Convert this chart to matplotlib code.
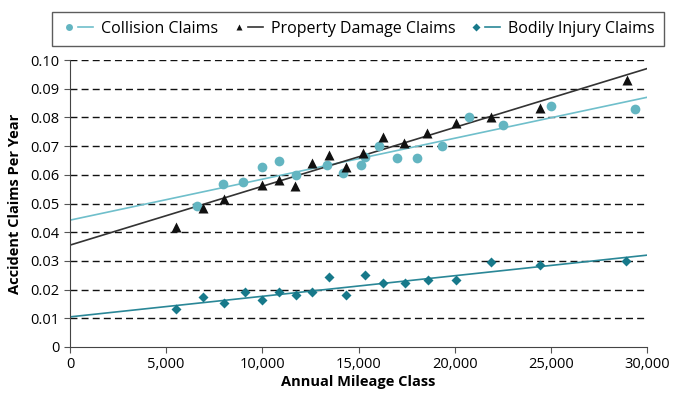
import matplotlib
matplotlib.use("Agg")
import matplotlib.pyplot as plt
from matplotlib.lines import Line2D
from matplotlib.legend_handler import HandlerTuple
from matplotlib.ticker import FuncFormatter

plt.rcParams['font.family'] = ['Open Sans', 'DejaVu Sans']

# Collision claims (circles)
coll_x = [6600, 7950, 9000, 9980, 10870, 11750, 13360, 14190, 15130, 15340,
          16070, 17000, 18040, 19340, 20750, 22510, 25010, 29380]
coll_y = [0.0491, 0.0568, 0.0575, 0.0627, 0.0648, 0.0599, 0.0634, 0.0606, 0.0634, 0.0663,
          0.0700, 0.0658, 0.0658, 0.0700, 0.0801, 0.0774, 0.0840, 0.0829]

# Property damage claims (triangles)
prop_x = [5500, 6900, 8020, 9980, 10870, 11720, 12580, 13470, 14340, 15250,
          16290, 17370, 18580, 20050, 21870, 24440, 28940]
prop_y = [0.0419, 0.0483, 0.0516, 0.0563, 0.0582, 0.0562, 0.0642, 0.0669, 0.0628, 0.0677,
          0.0733, 0.0712, 0.0744, 0.0779, 0.0800, 0.0834, 0.0930]

# Bodily injury claims (diamonds)
body_x = [5500, 6900, 8020, 9080, 9970, 10870, 11750, 12600, 13470, 14330,
          15340, 16290, 17440, 18630, 20050, 21890, 24440, 28890]
body_y = [0.0132, 0.0173, 0.0153, 0.0193, 0.0164, 0.0193, 0.0181, 0.0193, 0.0243, 0.0181,
          0.0251, 0.0222, 0.0222, 0.0233, 0.0233, 0.0295, 0.0286, 0.0300]

# trend lines, value at x=0 and x=30000
trend_x = [0, 30000]
coll_trend = [0.0442, 0.0870]
prop_trend = [0.0355, 0.0970]
body_trend = [0.0105, 0.0320]

coll_c = '#63b5c1'
prop_c = '#111111'
body_c = '#17798a'

fig = plt.figure(figsize=(6.74, 3.98), dpi=100)
ax = fig.add_axes([70 / 674, 1 - 347 / 398, 577 / 674, 287 / 398])

ax.plot(trend_x, coll_trend, color='#6fbfcb', lw=1.2, zorder=2)
ax.plot(trend_x, prop_trend, color='#333333', lw=1.2, zorder=2)
ax.plot(trend_x, body_trend, color='#2a8797', lw=1.2, zorder=2)

ax.plot(coll_x, coll_y, 'o', color=coll_c, ms=7, mec='none', zorder=3)
ax.plot(prop_x, prop_y, '^', color=prop_c, ms=7, mec='none', zorder=3)
ax.plot(body_x, body_y, 'D', color=body_c, ms=5.5, mec='none', zorder=3)

ax.set_xlim(0, 30000)
ax.set_ylim(0, 0.10)
ax.set_xticks(range(0, 30001, 5000))
ax.set_yticks([i / 100 for i in range(11)])
ax.xaxis.set_major_formatter(FuncFormatter(lambda v, p: '0' if v == 0 else f'{int(v):,}'))
ax.yaxis.set_major_formatter(FuncFormatter(lambda v, p: '0' if v == 0 else f'{v:.2f}'))
ax.tick_params(labelsize=10.5, length=4, color='#555555')

for y in [i / 100 for i in range(1, 11)]:
    ax.axhline(y, color='#111111', lw=1, ls=(0, (5, 3)), zorder=1)

ax.spines['top'].set_visible(False)
ax.spines['right'].set_visible(False)
ax.spines['left'].set_color('#444444')
ax.spines['bottom'].set_color('#444444')

ax.set_xlabel('Annual Mileage Class', fontsize=10.5, fontweight='bold', labelpad=2)
ax.set_ylabel('Accident Claims Per Year', fontsize=10.5, fontweight='bold', labelpad=6)

handles = [
    (Line2D([], [], marker='o', color=coll_c, ls='none', ms=5, mec='none'),
     Line2D([], [], color='#6fbfcb', lw=1.2)),
    (Line2D([], [], marker='^', color=prop_c, ls='none', ms=5, mec='none'),
     Line2D([], [], color='#333333', lw=1.2)),
    (Line2D([], [], marker='D', color=body_c, ls='none', ms=4, mec='none'),
     Line2D([], [], color='#2a8797', lw=1.2)),
]
labels = ['Collision Claims', 'Property Damage Claims', 'Bodily Injury Claims']
leg = fig.legend(handles, labels, handler_map={tuple: HandlerTuple(ndivide=None, pad=0.1)},
                 loc='upper center', bbox_to_anchor=(358 / 674, 1 - 4 / 398), ncol=3,
                 fontsize=11.5, frameon=True, fancybox=False, edgecolor='#333333',
                 handlelength=2.0, handletextpad=0.5, columnspacing=0.8, borderpad=0.55)
leg.get_frame().set_linewidth(1)

fig.savefig('out.png', dpi=100)
